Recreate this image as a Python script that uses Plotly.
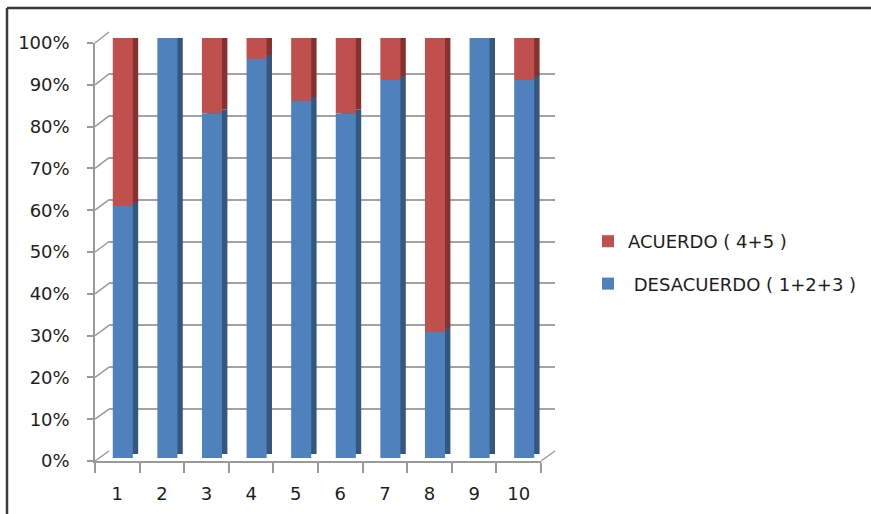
import plotly.graph_objects as go

# --- data -------------------------------------------------------------
categories = ["1", "2", "3", "4", "5", "6", "7", "8", "9", "10"]
desacuerdo = [60, 100, 82, 95, 85, 82, 90, 30, 100, 90]   # DESACUERDO ( 1+2+3 ), %
acuerdo = [40, 0, 18, 5, 15, 18, 10, 70, 0, 10]           # ACUERDO ( 4+5 ), %
y_tick_values = [0, 10, 20, 30, 40, 50, 60, 70, 80, 90, 100]
y_tick_labels = ["0%", "10%", "20%", "30%", "40%", "50%", "60%", "70%", "80%", "90%", "100%"]

# --- styling ------------------------------------------------------------
W, H = 871, 514
FONT = dict(family="DejaVu Sans", size=18, color="#1e1e1e")
AXIS_GRAY = "#9a9a9a"
BLUE, BLUE_SIDE = "#4f81bd", "#34577f"
RED, RED_SIDE, RED_TOP = "#c0504d", "#85312f", "#c95b58"
BAR_W = 0.45          # front face width (category units)
SIDE_DX = 0.12        # horizontal depth of the extrusion (category units)
DEPTH = 0.95          # vertical depth of the extrusion (percent units)


def px_x(p):
    return p / W


def px_y(p):
    return 1 - p / H


# axis geometry in pixels: back wall, bars, front axis
BACK_X, BACK_Y = (109, 555), (451, 32)
BAR_X, BAR_Y = (100.5, 546.5), (458, 38)
FRONT_X, FRONT_Y = (95, 541), (461, 43)

fig = go.Figure()

# back wall (gridlines only)
fig.add_trace(go.Scatter(x=[None], y=[None], xaxis="x", yaxis="y",
                         showlegend=False, hoverinfo="skip"))

# extruded side / top faces, then the front faces
totals = [d + a for d, a in zip(desacuerdo, acuerdo)]
fig.add_trace(go.Bar(x=categories, y=desacuerdo, base=[DEPTH] * len(categories),
                     width=BAR_W, offset=-BAR_W / 2 + SIDE_DX,
                     marker=dict(color=BLUE_SIDE, line=dict(width=0)),
                     xaxis="x2", yaxis="y2", showlegend=False, hoverinfo="skip"))
fig.add_trace(go.Bar(x=categories, y=acuerdo, base=[d + DEPTH for d in desacuerdo],
                     width=BAR_W, offset=-BAR_W / 2 + SIDE_DX,
                     marker=dict(color=RED_SIDE, line=dict(width=0)),
                     xaxis="x2", yaxis="y2", showlegend=False, hoverinfo="skip"))
fig.add_trace(go.Bar(x=categories, y=[DEPTH] * len(categories), base=totals,
                     width=BAR_W, offset=-BAR_W / 2 + SIDE_DX / 2,
                     marker=dict(color=RED_TOP, line=dict(width=0)),
                     xaxis="x2", yaxis="y2", showlegend=False, hoverinfo="skip"))
fig.add_trace(go.Bar(x=categories, y=acuerdo, base=desacuerdo,
                     width=BAR_W, offset=-BAR_W / 2,
                     name="ACUERDO ( 4+5 )", legendgroup="a",
                     marker=dict(color=RED, line=dict(width=0)),
                     xaxis="x2", yaxis="y2", hoverinfo="skip"))
fig.add_trace(go.Bar(x=categories, y=desacuerdo, base=[0] * len(categories),
                     width=BAR_W, offset=-BAR_W / 2,
                     name=" DESACUERDO ( 1+2+3 )", legendgroup="d",
                     marker=dict(color=BLUE, line=dict(width=0)),
                     xaxis="x2", yaxis="y2", hoverinfo="skip"))

# front axes carrying the tick labels
fig.add_trace(go.Scatter(x=categories, y=[0] * len(categories), mode="markers",
                         marker=dict(opacity=0), xaxis="x3", yaxis="y3",
                         showlegend=False, hoverinfo="skip"))

# perspective connectors between front ticks and back gridlines
shapes = []
for v in y_tick_values:
    yf = px_y(FRONT_Y[0] + (FRONT_Y[1] - FRONT_Y[0]) * v / 100)
    yb = px_y(BACK_Y[0] + (BACK_Y[1] - BACK_Y[0]) * v / 100)
    shapes.append(dict(type="line", xref="paper", yref="paper",
                       x0=px_x(FRONT_X[0]), y0=yf, x1=px_x(BACK_X[0]), y1=yb,
                       line=dict(color=AXIS_GRAY, width=1.5)))
# right edge of the floor
shapes.append(dict(type="line", xref="paper", yref="paper",
                   x0=px_x(FRONT_X[1]), y0=px_y(FRONT_Y[0]),
                   x1=px_x(BACK_X[1]), y1=px_y(BACK_Y[0]),
                   line=dict(color=AXIS_GRAY, width=1.5)))
# outer frame (left and top edges)
shapes.append(dict(type="line", xref="paper", yref="paper",
                   x0=px_x(7), y0=px_y(8), x1=px_x(7), y1=-0.05,
                   line=dict(color="#3a3a3a", width=2.5)))
shapes.append(dict(type="line", xref="paper", yref="paper",
                   x0=px_x(7), y0=px_y(8), x1=1.05, y1=px_y(8),
                   line=dict(color="#3a3a3a", width=2.5)))

hidden = dict(visible=False, fixedrange=True, automargin=False)

fig.update_layout(
    width=W, height=H,
    margin=dict(l=0, r=0, t=0, b=0, autoexpand=False),
    paper_bgcolor="white", plot_bgcolor="rgba(0,0,0,0)",
    font=FONT,
    barmode="overlay",
    showlegend=True,
    legend=dict(x=px_x(588), y=px_y(223), xanchor="left", yanchor="top",
                traceorder="grouped", tracegroupgap=16,
                font=FONT, bgcolor="rgba(0,0,0,0)", itemclick=False),
    shapes=shapes,
    xaxis=dict(domain=[px_x(BACK_X[0]), px_x(BACK_X[1])], range=[0, 1],
               anchor="y", showgrid=False, zeroline=False, showticklabels=False,
               showline=False, ticks="", automargin=False),
    yaxis=dict(domain=[px_y(BACK_Y[0]), px_y(BACK_Y[1])], range=[0, 100],
               anchor="x", tickvals=y_tick_values, showgrid=True,
               gridcolor="#a3a3a3", gridwidth=2, zeroline=False,
               showticklabels=False, ticks="", showline=False, automargin=False),
    xaxis2=dict(domain=[px_x(BAR_X[0]), px_x(BAR_X[1])], range=[-0.5, 9.5],
                anchor="y2", type="category", categoryorder="array",
                categoryarray=categories, **hidden),
    yaxis2=dict(domain=[px_y(BAR_Y[0]), px_y(BAR_Y[1])], range=[0, 100],
                anchor="x2", **hidden),
    xaxis3=dict(domain=[px_x(FRONT_X[0]), px_x(FRONT_X[1])], range=[-0.5, 9.5],
                anchor="y3", type="category", categoryorder="array",
                categoryarray=categories, showgrid=False, zeroline=False,
                showline=True, linecolor=AXIS_GRAY, linewidth=1.5,
                ticks="outside", tickson="boundaries", ticklen=10,
                tickcolor=AXIS_GRAY, tickwidth=1.5, tickfont=FONT,
                ticklabelstandoff=16, automargin=False),
    yaxis3=dict(domain=[px_y(FRONT_Y[0]), px_y(FRONT_Y[1])], range=[0, 100],
                anchor="x3", tickvals=y_tick_values, ticktext=y_tick_labels,
                showgrid=False, zeroline=False, showline=True,
                linecolor=AXIS_GRAY, linewidth=1.5, ticks="outside", ticklen=6,
                tickcolor=AXIS_GRAY, tickwidth=1.5, tickfont=FONT,
                ticklabelstandoff=14, automargin=False),
)

fig.write_html("out.html")
